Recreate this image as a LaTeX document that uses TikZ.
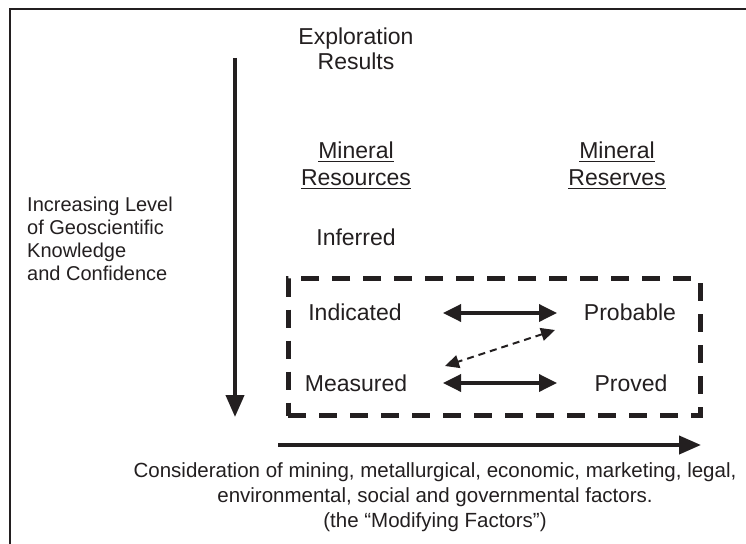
\documentclass[tikz,border=0pt]{standalone}
\usepackage{fontspec}
\setmainfont{Liberation Sans}
\usetikzlibrary{arrows.meta}
\definecolor{ink}{RGB}{35,31,32}
\begin{document}
\begin{tikzpicture}[x=1pt,y=-1pt,
  lbl/.style={anchor=base,inner sep=0pt,text=ink,font=\fontsize{23}{27}\selectfont},
  side/.style={anchor=base west,inner sep=0pt,text=ink,font=\fontsize{20}{23}\selectfont},
  foot/.style={anchor=base,inner sep=0pt,text=ink,font=\fontsize{20.5}{25}\selectfont},
  bigarrow/.style={draw=ink,line width=4pt,-{Triangle[width=18pt,length=22pt]}},
  dblarrow/.style={draw=ink,line width=3.5pt,{Triangle[width=17pt,length=18pt]}-{Triangle[width=17pt,length=18pt]}},
  dsharrow/.style={draw=ink,line width=2pt,dash pattern=on 7pt off 5pt,{Triangle[width=13pt,length=14pt]}-{Triangle[width=13pt,length=14pt]}},
  ul/.style={draw=ink,line width=1.5pt}]
\useasboundingbox (0,0) rectangle (746,543);
\fill[white] (0,0) rectangle (746,543);
\draw[ink,line width=2.5pt] (10,545) -- (10,9) -- (748,9);

\node[lbl] (exp) at (356,45) {Exploration};
\node[lbl] (res) at (356,70) {Results};

\node[lbl] (mr1) at (356,158) {Mineral};
\node[lbl] (mr2) at (356,185) {Resources};
\node[lbl] (mv1) at (617,158) {Mineral};
\node[lbl] (mv2) at (617,185) {Reserves};
\foreach \n in {mr1,mr2,mv1,mv2}
  \draw[ul] ([yshift=-3.5pt]\n.base west) -- ([yshift=-3.5pt]\n.base east);

\node[side] (s1) at (27,211) {Increasing Level};
\node[side] (s2) at (27,234) {of Geoscientific};
\node[side] (s3) at (27,257) {Knowledge};
\node[side] (s4) at (27,280) {and Confidence};

\node[lbl] (inf) at (356,245) {Inferred};
\node[draw=ink,line width=5pt,dash pattern=on 18pt off 13pt,minimum width=412pt,minimum height=137pt,inner sep=0pt] (box) at (494,347) {};

\node[lbl] (ind) at (355,320) {Indicated};
\node[lbl] (pro) at (630,320) {Probable};
\node[lbl] (mea) at (356,391) {Measured};
\node[lbl] (prv) at (631,391) {Proved};

\coordinate (vt) at (235,58);
\coordinate (vb) at (235,417);
\draw[bigarrow] (vt) -- (vb);
\coordinate (hl) at (278,445);
\coordinate (hr) at (701,445);
\draw[bigarrow] (hl) -- (hr);

\coordinate (a1) at (443,313);
\coordinate (a2) at (557,313);
\draw[dblarrow] (a1) -- (a2);
\coordinate (b1) at (443,383);
\coordinate (b2) at (557,383);
\draw[dblarrow] (b1) -- (b2);
\coordinate (d1) at (555,330);
\coordinate (d2) at (445,366);
\draw[dsharrow] (d1) -- (d2);

\node[foot] (f1) at (435,477) {Consideration of mining, metallurgical, economic, marketing, legal,};
\node[foot] (f2) at (435,502) {environmental, social and governmental factors.};
\node[foot] (f3) at (435,527) {(the “Modifying Factors”)};
\end{tikzpicture}
\end{document}
